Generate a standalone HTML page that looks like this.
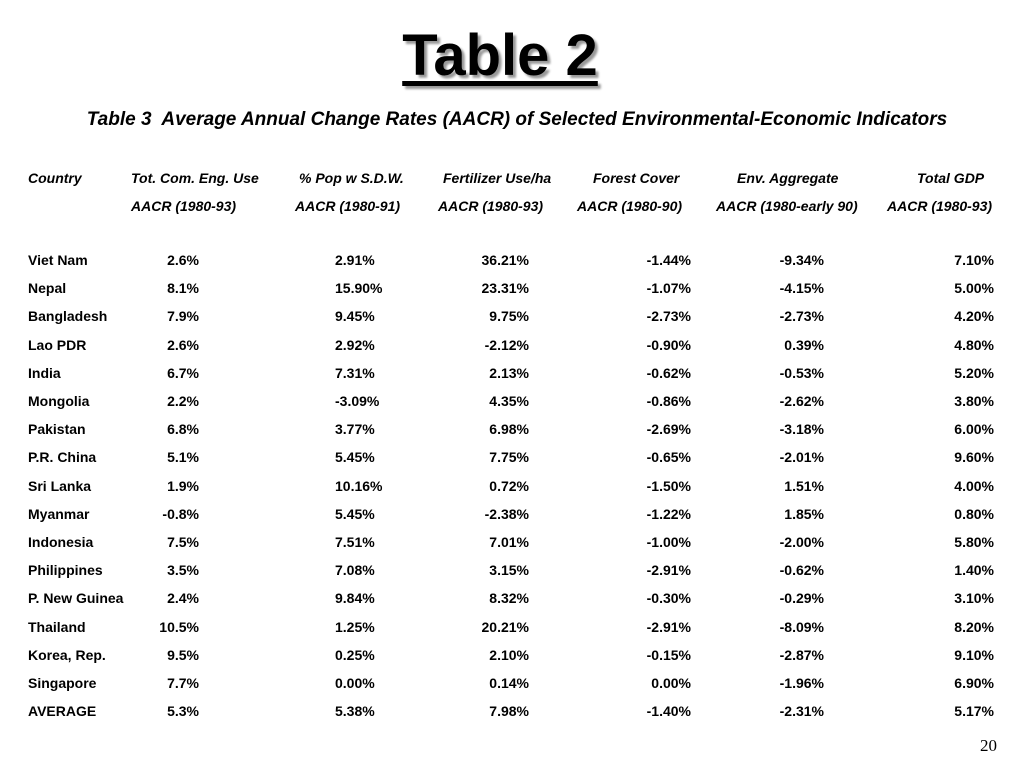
<!DOCTYPE html>
<html><head><meta charset="utf-8"><style>
body{margin:0;width:1024px;height:768px;background:#fff;position:relative;overflow:hidden;font-family:"Liberation Sans",Arial,sans-serif;color:#000}
.t{position:absolute;font-weight:bold;font-size:14px;line-height:16px;white-space:nowrap}
.r{text-align:right}
.h{font-style:italic}
#title{position:absolute;left:0;width:1000px;top:22px;text-align:center;font-size:58px;font-weight:bold;text-decoration:underline;text-decoration-thickness:5px;text-underline-offset:6px;text-shadow:3px 3px 2px #999}
#sub{position:absolute;left:0;width:1034px;top:109px;text-align:center;font-size:19px;font-weight:bold;font-style:italic}
#pg{position:absolute;left:980px;top:736px;font-size:17px;font-family:"Liberation Serif",serif}
</style></head><body>
<div id="title">Table 2</div>
<div id="sub">Table 3&nbsp; Average Annual Change Rates (AACR) of Selected Environmental-Economic Indicators</div>
<div id="tbl"></div>
<div id="pg">20</div>
<script>
const headers1=["Country","Tot. Com. Eng. Use","% Pop w S.D.W.","Fertilizer Use/ha","Forest Cover","Env. Aggregate","Total GDP"];
const headers2=["","AACR (1980-93)","AACR (1980-91)","AACR (1980-93)","AACR (1980-90)","AACR (1980-early 90)","AACR (1980-93)"];
const countries=["Viet Nam","Nepal","Bangladesh","Lao PDR","India","Mongolia","Pakistan","P.R. China","Sri Lanka","Myanmar","Indonesia","Philippines","P. New Guinea","Thailand","Korea, Rep.","Singapore","AVERAGE"];
const energy=["2.6%","8.1%","7.9%","2.6%","6.7%","2.2%","6.8%","5.1%","1.9%","-0.8%","7.5%","3.5%","2.4%","10.5%","9.5%","7.7%","5.3%"];
const water=["2.91%","15.90%","9.45%","2.92%","7.31%","-3.09%","3.77%","5.45%","10.16%","5.45%","7.51%","7.08%","9.84%","1.25%","0.25%","0.00%","5.38%"];
const fert=["36.21%","23.31%","9.75%","-2.12%","2.13%","4.35%","6.98%","7.75%","0.72%","-2.38%","7.01%","3.15%","8.32%","20.21%","2.10%","0.14%","7.98%"];
const forest=["-1.44%","-1.07%","-2.73%","-0.90%","-0.62%","-0.86%","-2.69%","-0.65%","-1.50%","-1.22%","-1.00%","-2.91%","-0.30%","-2.91%","-0.15%","0.00%","-1.40%"];
const env=["-9.34%","-4.15%","-2.73%","0.39%","-0.53%","-2.62%","-3.18%","-2.01%","1.51%","1.85%","-2.00%","-0.62%","-0.29%","-8.09%","-2.87%","-1.96%","-2.31%"];
const gdp=["7.10%","5.00%","4.20%","4.80%","5.20%","3.80%","6.00%","9.60%","4.00%","0.80%","5.80%","1.40%","3.10%","8.20%","9.10%","6.90%","5.17%"];
const tbl=document.getElementById('tbl');
function put(txt,x,y,right,cls,name){
  const d=document.createElement('div');
  d.className='t'+(right?' r':'')+(cls?' '+cls:'');
  d.textContent=txt;
  d.style.top=(y-8)+'px';
  if(right){d.style.right=(1024-x)+'px';}else{d.style.left=x+'px';}
  
  
  tbl.appendChild(d);
}
const hx=[28,131,299,443,593,737,917];
const h2x=[28,131,295,438,577,716,887];
headers1.forEach((h,i)=>put(h,hx[i],178,false,'h','column-header'));
headers2.forEach((h,i)=>{if(h)put(h,h2x[i],206,false,'h','column-subheader');});
const cols=[[energy,199,true],[water,335,false],[fert,529,true],[forest,691,true],[env,824,true],[gdp,994,true]];
countries.forEach((c,i)=>{
  const y=260+i*28.2;
  put(c,28,y,false,'','country-label');
  cols.forEach(([arr,x,r])=>put(arr[i],x,y,r,'','table-cell'));
});
</script>
</body></html>
